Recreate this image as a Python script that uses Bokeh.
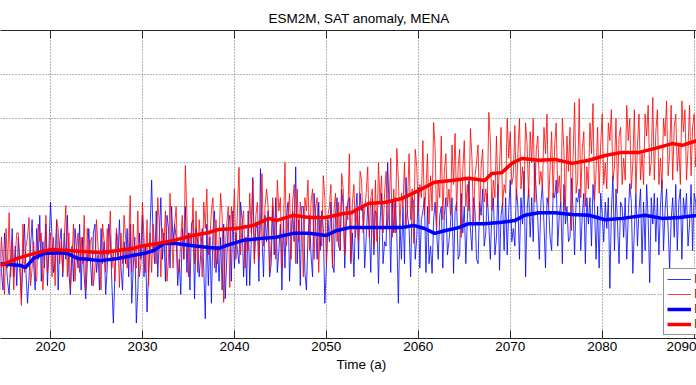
import numpy as np
from bokeh.plotting import figure
from bokeh.models import (Range1d, FixedTicker, LinearAxis, Title, Legend, LegendItem,
                          CustomJSTickFormatter)
from bokeh.embed import file_html
from bokeh.resources import INLINE

# ---------------- data ----------------
title_text = "ESM2M, SAT anomaly, MENA"
xlabel = "Time (a)"
series_names = ["RCP4.5 monthly", "RCP8.5 monthly", "RCP4.5 running mean", "RCP8.5 running mean"]
x_ticks = [2020, 2030, 2040, 2050, 2060, 2070, 2080, 2090]
y_ticks = [-2, -1, 0, 1, 2, 3, 4, 5]

raw_start = 2014.5      # six samples per year, one row per year
blue_raw = [
    0.2, -0.5, -0.9, 0.4, -0.2, -0.7,
    -1.0, -0.3, 0.5, -0.6, 0.1, -0.8,
    0.3, -0.4, -1.1, -0.2, 0.6, -0.5,
    -1.2, -0.6, 0.1, 0.7, -0.3, -0.9,
    0.5, -0.2, 0.8, -0.7, 0.2, -0.4,
    0.6, -0.8, 0.1, 1.1, 0.3, -0.5,
    -0.3, 0.7, -0.9, 0.2, 0.5, -0.6,
    0.4, -0.2, 0.8, -0.5, -1.0, 0.1,
    -0.7, 0.5, 0.0, -0.4, 0.6, -0.9,
    0.3, -0.6, -1.1, -0.3, 0.5, -0.2,
    -0.8, 0.4, 0.6, -0.5, -0.1, -0.9,
    0.5, -0.3, 0.2, -1.0, -0.4, 0.6,
    0.3, -0.7, -1.65, -0.6, 0.4, -0.2,
    0.7, -0.4, -0.9, 0.2, -0.3, 0.5,
    -0.6, 0.6, -1.2, -0.4, 0.3, -1.65,
    -0.9, 0.4, -0.2, 0.8, -0.6, 0.1,
    -1.4, -0.5, 0.5, 1.6, 0.2, -0.3,
    0.9, -0.6, 0.3, 1.2, -0.2, 0.4,
    -0.7, 0.8, 0.5, -0.4, 1.0, 0.2,
    0.6, 0.3, -0.8, -0.2, -1.0, 0.5,
    -0.2, 1.0, -0.5, 0.4, -0.9, 0.6,
    0.7, -1.1, 0.5, 0.2, -0.6, -0.1,
    0.5, -0.4, -1.55, 0.6, -0.8, 0.3,
    -1.2, 0.4, 0.9, -0.5, 0.1, -0.7,
    0.3, -0.9, 0.6, -1.1, -0.2, 0.6,
    0.8, -0.7, 0.9, -0.4, 0.4, 0.0,
    -0.3, 1.1, 0.7, -0.6, 0.3, -0.8,
    0.9, -0.8, 0.2, 1.66, -0.2, 0.5,
    0.6, -0.7, 1.86, 0.3, -0.6, 0.8,
    0.2, 0.9, -0.6, -0.3, 1.0, -0.1,
    1.2, -0.5, 0.0, 0.6, -0.9, 0.7,
    -0.4, 0.8, 1.1, -0.7, 0.3, 0.9,
    0.2, 1.9, -0.3, 0.7, -0.8, 1.0,
    1.0, -0.5, -0.9, 0.3, 0.8, -0.1,
    -0.6, 1.3, 0.6, -0.2, 1.1, 0.0,
    0.9, 0.5, -1.2, -0.4, 0.7, 0.2,
    1.1, -0.3, -0.5, 0.8, 1.2, 0.1,
    0.0, 1.4, 1.0, -0.4, 0.6, 1.1,
    1.2, -0.3, 0.4, -0.6, 0.8, 1.3,
    -0.2, 1.3, 0.9, 1.0, -0.4, 0.3,
    1.0, 0.5, -0.5, 1.2, -0.1, 0.9,
    0.8, -0.75, 0.6, 1.3, -0.3, 0.2,
    0.1, 2.0, 0.9, -0.5, 1.1, 0.4,
    1.2, 0.3, -1.2, 0.6, -0.2, 1.0,
    -0.3, 1.66, 0.8, 0.5, -0.6, 1.2,
    1.1, -0.2, 0.3, 1.43, -0.4, 0.7,
    0.9, 1.2, -0.5, 1.0, -0.3, 0.1,
    -0.52, 0.7, 1.1, 0.4, -0.2, 0.8,
    1.0, -0.4, 0.8, 1.2, -0.1, 0.2,
    0.6, 1.2, -0.52, 0.9, 1.1, -0.2,
    -0.1, 1.3, 0.4, 1.0, -0.3, 0.7,
    1.59, 0.5, 0.0, 1.2, 0.9, -0.2,
    -0.3, 1.1, 0.8, 1.4, 0.1, 0.4,
    1.3, 0.6, -0.2, 0.9, 1.2, -0.1,
    0.3, 1.5, -0.45, 0.8, 1.1, 0.0,
    1.2, -0.1, 0.9, 1.6, 0.2, 0.5,
    0.1, 1.4, 1.0, -0.2, 1.2, 0.6,
    1.8, -0.6, 0.9, 1.4, 0.3, 1.2,
    0.2, 2.0, 1.3, 0.7, -0.2, 1.1,
    1.5, 0.6, -0.4, 1.2, 1.0, 0.3,
    0.0, 1.3, 1.2, 1.6, 0.1, 0.8,
    1.1, -0.3, 1.5, 0.6, 1.0, 0.2,
    0.3, 1.64, 0.9, -0.1, 1.2, 1.1,
    1.4, 0.0, 0.8, 1.3, -0.3, 1.2,
    0.6, 1.2, 0.1, 1.5, 1.0, -0.2,
    1.0, -0.4, 1.3, 0.8, 0.2, 1.1,
    0.5, 1.2, -0.86, 0.9, 1.70, 0.0,
    1.4, 0.6, -0.3, 1.1, 1.0, 0.3,
    1.2, -0.2, 0.8, 1.52, 1.1, -0.52,
    0.5, 1.3, 0.1, 0.9, 1.4, -0.3,
    1.1, 0.0, 1.5, 0.7, -0.73, 1.2,
    0.6, 1.3, 0.2, 1.2, -0.1, 1.0,
    1.6, 0.0, 0.9, 1.4, 0.5, -0.4,
    0.7, 1.2, 0.3, 1.5, 0.0, 1.1,
    1.4, -0.2, 1.2, 0.8, 1.3, 0.1,
    0.6, 1.5, 0.0, 1.3, 1.1, 0.2,
    1.2,
]
red_raw = [
    -0.9, 0.3, -0.2, -1.0, 0.5, -0.4,
    0.86, -0.6, 0.2, -0.9, -0.1, 0.4,
    0.4, -0.3, -1.25, 0.6, -0.5, 0.1,
    0.3, 0.75, -0.8, -0.4, 0.2, -0.6,
    -0.7, 0.6, 0.2, 0.4, -0.9, -0.2,
    0.8, -0.5, -0.1, 0.4, -0.6, 0.3,
    -0.8, 0.7, 0.5, -0.3, 0.2, -0.5,
    0.3, 1.02, -0.6, 0.4, -0.84, -0.2,
    0.6, -0.7, 0.0, 0.4, -0.5, 0.3,
    -0.3, 0.8, -0.9, 0.5, -0.2, 0.2,
    0.3, -0.8, -0.4, 0.7, 0.1, -0.3,
    -0.9, 0.6, 0.2, -0.5, 0.5, -0.1,
    0.9, -0.4, 0.0, -0.7, 0.5, 0.2,
    -0.84, 0.4, -0.3, 0.8, 0.3, -0.4,
    0.1, 1.25, -0.5, 0.6, -0.2, -0.4,
    0.9, -0.6, -0.3, 1.1, 0.3, -0.5,
    0.7, -0.8, 0.4, -0.5, 0.6, 0.0,
    -0.3, 1.2, 0.6, -0.6, 0.5, 0.2,
    0.9, -0.7, -0.2, 1.3, 0.4, -0.4,
    0.6, 1.0, -0.4, -0.5, 0.3, 0.8,
    -0.2, 1.93, 0.8, -0.6, 0.4, 0.1,
    1.2, -0.3, 0.9, -0.5, 0.7, 0.2,
    -0.6, 1.1, 0.5, 1.4, -0.1, 0.3,
    0.9, 1.2, -0.4, 0.7, -0.3, 0.2,
    1.3, 0.8, -1.18, 0.0, 0.6, 1.0,
    -0.84, 1.0, 0.5, 1.4, -0.2, 0.9,
    1.89, -0.1, 0.6, 0.9, -0.4, 0.3,
    0.0, 1.3, 0.4, 1.6, -0.3, 0.8,
    1.1, -0.2, 0.6, 1.75, 0.1, 1.0,
    1.4, 1.0, -0.5, 0.2, 1.2, 0.6,
    -0.2, 1.6, 0.9, 1.2, -0.4, 0.5,
    2.0, 0.1, 0.8, 1.3, -0.2, 1.1,
    1.5, -0.3, 1.4, 0.2, 1.1, 0.6,
    -0.6, 1.2, 0.9, 1.6, 0.0, 1.1,
    1.4, -0.2, 1.0, 1.2, -0.5, 0.7,
    0.1, 1.7, 1.2, -0.3, 0.8, 1.0,
    1.5, -0.4, 0.9, 1.3, 0.2, 1.1,
    0.0, 1.75, 1.4, -0.1, 1.0, 0.7,
    2.2, -0.23, 1.1, 1.5, 0.3, 0.9,
    0.2, 1.8, 1.6, 0.4, 0.9, 1.3,
    1.9, 0.3, 1.2, 1.4, 0.1, 1.6,
    0.2, 2.0, 1.1, 1.7, 0.4, 1.3,
    1.8, 0.5, 1.0, 2.1, 0.3, 1.4,
    0.4, 2.32, 1.6, 0.6, 1.3, 1.0,
    2.0, 0.5, 1.1, 2.2, 0.7, 1.4,
    0.16, 2.3, 1.9, 0.9, 1.5, 1.2,
    2.5, 0.8, 1.4, 2.2, 0.6, 1.7,
    0.9, 2.91, 2.3, 0.5, 1.6, 1.2,
    2.6, 0.7, 1.8, 2.2, 1.0, 1.4,
    0.8, 2.4, 1.5, 2.66, 0.9, 1.9,
    2.3, 0.30, 1.8, 2.5, 1.0, 1.5,
    0.9, 2.77, 2.1, 0.6, 1.7, 2.0,
    2.4, 0.7, 1.9, 2.3, 1.1, 1.4,
    1.0, 3.14, 2.5, 0.9, 1.6, 1.2,
    2.6, 1.2, 1.9, 2.8, 1.0, 1.5,
    1.3, 3.0, 2.1, 2.7, 1.5, 1.7,
    2.84, 1.14, 2.2, 3.0, 1.4, 1.9,
    1.3, 2.9, 2.4, 1.2, 2.7, 2.0,
    3.0, 1.1, 2.3, 2.6, 1.5, 1.8,
    1.4, 2.8, 2.2, 3.1, 1.0, 1.9,
    2.7, 1.2, 2.4, 2.9, 1.3, 1.7,
    1.1, 3.0, 2.3, 0.9, 2.6, 1.8,
    2.8, 0.45, 2.1, 3.36, 1.3, 1.6,
    3.45, 1.2, 2.3, 2.7, 1.0, 1.9,
    1.4, 2.9, 2.2, 3.34, 1.14, 1.8,
    2.8, 1.3, 2.4, 3.1, 1.5, 2.0,
    1.4, 2.9, 2.5, 3.2, 1.6, 1.9,
    3.0, 1.3, 2.6, 2.8, 1.5, 2.1,
    1.6, 3.3, 2.5, 3.0, 1.4, 2.0,
    3.2, 1.3, 2.4, 3.1, 1.6, 2.2,
    1.5, 3.1, 2.6, 3.3, 1.7, 2.0,
    3.48, 1.6, 2.7, 3.2, 1.5, 2.1,
    1.4, 3.0, 2.6, 3.4, 1.7, 2.2,
    3.3, 1.6, 2.8, 3.1, 1.8, 2.4,
    1.5, 3.4, 2.7, 3.2, 1.6, 2.3,
    3.3, 1.7, 2.8, 3.1, 1.9, 2.4,
    3.2,
]

blue_smooth_years = [2014.55, 2016.73, 2017.28, 2018.15, 2019.24, 2021.09, 2021.86, 2022.95, 2024.04,
                     2025.46, 2027.31, 2029.05, 2030.14, 2031.23, 2032.33, 2033.63, 2035.49, 2037.23,
                     2038.32, 2039.09, 2040.94, 2042.69, 2044.54, 2046.39, 2048.14, 2049.99, 2051.08,
                     2052.50, 2054.90, 2058.17, 2059.48, 2060.68, 2061.77, 2062.86, 2064.39, 2065.48,
                     2067.22, 2069.08, 2070.49, 2071.58, 2073.11, 2074.85, 2076.71, 2078.56, 2080.31,
                     2082.16, 2084.67, 2086.52, 2088.38, 2090.34]
blue_smooth = [-0.30, -0.34, -0.39, -0.18, -0.07, -0.05, -0.07, -0.18, -0.20,
               -0.23, -0.18, -0.11, -0.07, 0.00, 0.16, 0.16, 0.11, 0.07,
               0.05, 0.11, 0.23, 0.27, 0.30, 0.39, 0.39, 0.34, 0.45,
               0.52, 0.52, 0.52, 0.57, 0.50, 0.39, 0.45, 0.52, 0.61,
               0.61, 0.64, 0.68, 0.80, 0.86, 0.86, 0.82, 0.80, 0.70,
               0.73, 0.80, 0.73, 0.75, 0.80]
red_smooth_years = [2014.55, 2016.40, 2018.15, 2020.00, 2021.86, 2023.60, 2025.46, 2027.31, 2029.05,
                    2030.14, 2031.67, 2033.42, 2035.49, 2037.23, 2038.32, 2040.18, 2042.03, 2043.78,
                    2044.54, 2046.39, 2048.14, 2049.99, 2051.85, 2052.72, 2054.57, 2056.32, 2058.17,
                    2060.02, 2061.77, 2063.62, 2065.48, 2067.22, 2067.99, 2069.08, 2070.17, 2071.26,
                    2073.11, 2074.85, 2076.71, 2078.56, 2080.31, 2082.16, 2084.02, 2085.76, 2087.61,
                    2088.70, 2090.34]
red_smooth = [-0.34, -0.18, -0.07, 0.02, 0.00, -0.02, -0.05, 0.00, 0.05,
              0.11, 0.16, 0.23, 0.34, 0.41, 0.48, 0.50, 0.57, 0.73,
              0.68, 0.80, 0.75, 0.75, 0.84, 0.86, 1.07, 1.09, 1.18,
              1.36, 1.55, 1.59, 1.64, 1.59, 1.75, 1.77, 1.98, 2.09,
              2.05, 2.07, 1.98, 2.05, 2.16, 2.23, 2.23, 2.32, 2.43,
              2.39, 2.50]

t_blue = raw_start + np.arange(len(blue_raw)) / 6.0
t_red = raw_start + np.arange(len(red_raw)) / 6.0

# ---------------- figure ----------------
FONT = "Liberation Sans"
W, H = 696, 385
p = figure(width=W, height=H, output_backend="svg", toolbar_location=None,
           x_range=Range1d(2014.562, 2090.255), y_range=Range1d(-2, 5),
           min_border_left=0, min_border_right=0, min_border_top=30, min_border_bottom=47,
           background_fill_color="white", border_fill_color="white")
p.outline_line_color = None
p.yaxis.visible = False

# bottom axis
xa = p.xaxis[0]
xa.ticker = FixedTicker(ticks=x_ticks)
xa.major_tick_in = 8
xa.major_tick_out = 0
xa.minor_tick_in = 0
xa.minor_tick_out = 0
xa.axis_line_color = "#262626"
xa.major_tick_line_color = "#262626"
xa.major_label_text_font = FONT
xa.major_label_text_font_size = "13.5px"
xa.major_label_text_color = "#000000"
xa.major_label_standoff = 3

# top axis (ticks only)
ta = LinearAxis(ticker=FixedTicker(ticks=x_ticks),
                formatter=CustomJSTickFormatter(code="return ''"),
                major_tick_in=8, major_tick_out=0, minor_tick_in=0, minor_tick_out=0,
                major_label_standoff=0, major_label_text_font_size="1px",
                axis_line_color="#262626", major_tick_line_color="#262626")
p.add_layout(ta, "above")

# grid
p.xgrid.ticker = FixedTicker(ticks=x_ticks)
p.ygrid.ticker = FixedTicker(ticks=y_ticks)
for g in (p.xgrid, p.ygrid):
    g.grid_line_color = "#3a3a3a"
    g.grid_line_alpha = 0.75
    g.grid_line_dash = "1 2"
    g.grid_line_width = 1

# title and x label
p.title.visible = False
t = Title(text=title_text, align="left", offset=268, standoff=9,
          text_font=FONT, text_font_size="13.5px", text_font_style="normal", text_color="#000000")
p.add_layout(t, "above")
xl = Title(text=xlabel, align="left", offset=336, standoff=2,
           text_font=FONT, text_font_size="13.5px", text_font_style="normal", text_color="#000000")
p.add_layout(xl, "below")

# data
r1 = p.line(t_blue, blue_raw, line_color="#0000ff", line_width=0.8)
r2 = p.line(t_red, red_raw, line_color="#ff0000", line_width=0.8)
r3 = p.line(blue_smooth_years, blue_smooth, line_color="#0000ff", line_width=3.5)
r4 = p.line(red_smooth_years, red_smooth, line_color="#ff0000", line_width=3.5)

legend = Legend(items=[LegendItem(label=series_names[0], renderers=[r1]),
                       LegendItem(label=series_names[1], renderers=[r2]),
                       LegendItem(label=series_names[2], renderers=[r3]),
                       LegendItem(label=series_names[3], renderers=[r4])],
                location=(663, 3), label_text_font=FONT, label_text_font_size="12px",
                glyph_width=24, glyph_height=12, label_height=12, spacing=1,
                padding=3, margin=0, label_standoff=3,
                border_line_color="#262626", border_line_width=1,
                background_fill_color="white", background_fill_alpha=1.0)
p.add_layout(legend, "center")

open("out.html", "w").write(file_html(p, INLINE))
